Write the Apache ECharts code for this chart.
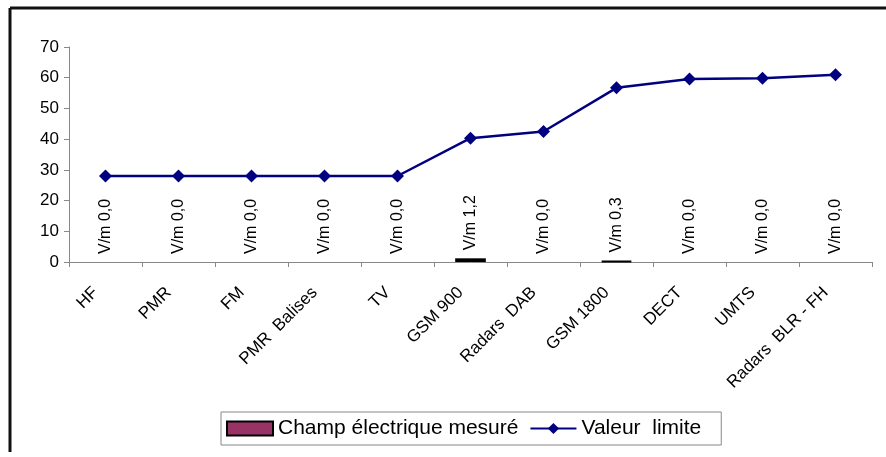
<!DOCTYPE html>
<html>
<head>
<meta charset="utf-8">
<script src="https://cdn.jsdelivr.net/npm/echarts@6/dist/echarts.min.js"></script>
<style>
  html, body { margin: 0; padding: 0; background: #fff; }
  #chart { width: 886px; height: 457px; }
</style>
</head>
<body>
<div id="chart"></div>
<script>
// Frequency services along the horizontal axis
const categories = ['HF', 'PMR', 'FM', 'PMR  Balises', 'TV', 'GSM 900', 'Radars  DAB', 'GSM 1800', 'DECT', 'UMTS', 'Radars  BLR - FH'];
// Measured electric field (V/m)
const measuredField = [0.0, 0.0, 0.0, 0.0, 0.0, 1.2, 0.0, 0.3, 0.0, 0.0, 0.0];
// Regulatory limit value (V/m)
const limitValue = [28, 28, 28, 28, 28, 40.3, 42.5, 56.7, 59.6, 59.8, 61];
// Value axis ticks
const yTicks = [0, 10, 20, 30, 40, 50, 60, 70];

const fontFamily = 'Arial, "Liberation Sans", sans-serif';
const chart = echarts.init(document.getElementById('chart'), null, { renderer: 'canvas' });

// Empty measurements get no outline so only non-zero bars show
const barData = measuredField.map(v => ({
  value: v,
  itemStyle: { borderWidth: v > 0 ? 2 : 0, opacity: v > 0 ? 1 : 0 }
}));

chart.setOption({
  backgroundColor: '#ffffff',
  animation: false,
  textStyle: { fontFamily: fontFamily, color: '#000' },
  graphic: [
    { type: 'line', shape: { x1: 10, y1: 8, x2: 886, y2: 8 }, style: { stroke: '#111', lineWidth: 3 } },
    { type: 'line', shape: { x1: 10, y1: 8, x2: 10, y2: 452 }, style: { stroke: '#111', lineWidth: 3 } }
  ],
  grid: { left: 69, right: 14, top: 47, bottom: 195, containLabel: false },
  legend: {
    left: 221, top: 412,
    padding: [6, 20, 6, 5],
    itemGap: 11,
    itemWidth: 46, itemHeight: 14,
    borderColor: '#888', borderWidth: 1,
    textStyle: { fontSize: 21, fontFamily: fontFamily, color: '#000' },
    data: [
      { name: 'Champ électrique mesuré', icon: 'rect', itemStyle: { color: '#993366', borderColor: '#000', borderWidth: 2, opacity: 1 } },
      { name: 'Valeur  limite' }
    ]
  },
  xAxis: {
    type: 'category',
    data: categories,
    boundaryGap: true,
    axisLine: { lineStyle: { color: '#888', width: 1 } },
    axisTick: { show: true, length: 5, inside: false, lineStyle: { color: '#888' } },
    axisLabel: { rotate: 45, fontSize: 17, color: '#000', margin: 18, padding: [0, 14, 0, 0], interval: 0 },
    splitLine: { show: false }
  },
  yAxis: {
    type: 'value',
    min: yTicks[0], max: yTicks[yTicks.length - 1], interval: 10,
    axisLine: { show: true, lineStyle: { color: '#888', width: 1 } },
    axisTick: { show: true, length: 5, lineStyle: { color: '#888' } },
    axisLabel: { fontSize: 17, color: '#000', margin: 10 },
    splitLine: { show: false }
  },
  series: [
    {
      name: 'Champ électrique mesuré',
      type: 'bar',
      data: barData,
      barWidth: '42%',
      itemStyle: { color: '#993366', borderColor: '#000', borderWidth: 2 },
      label: {
        show: true,
        position: 'top',
        distance: 8,
        rotate: 90,
        align: 'left',
        verticalAlign: 'middle',
        fontSize: 16,
        color: '#000',
        opacity: 1,
        formatter: p => 'V/m ' + p.value.toFixed(1).replace('.', ',')
      }
    },
    {
      name: 'Valeur  limite',
      type: 'line',
      data: limitValue,
      symbol: 'diamond',
      symbolSize: 13,
      lineStyle: { color: '#000080', width: 2.5 },
      itemStyle: { color: '#000080' },
      z: 5
    }
  ]
});
</script>
</body>
</html>
